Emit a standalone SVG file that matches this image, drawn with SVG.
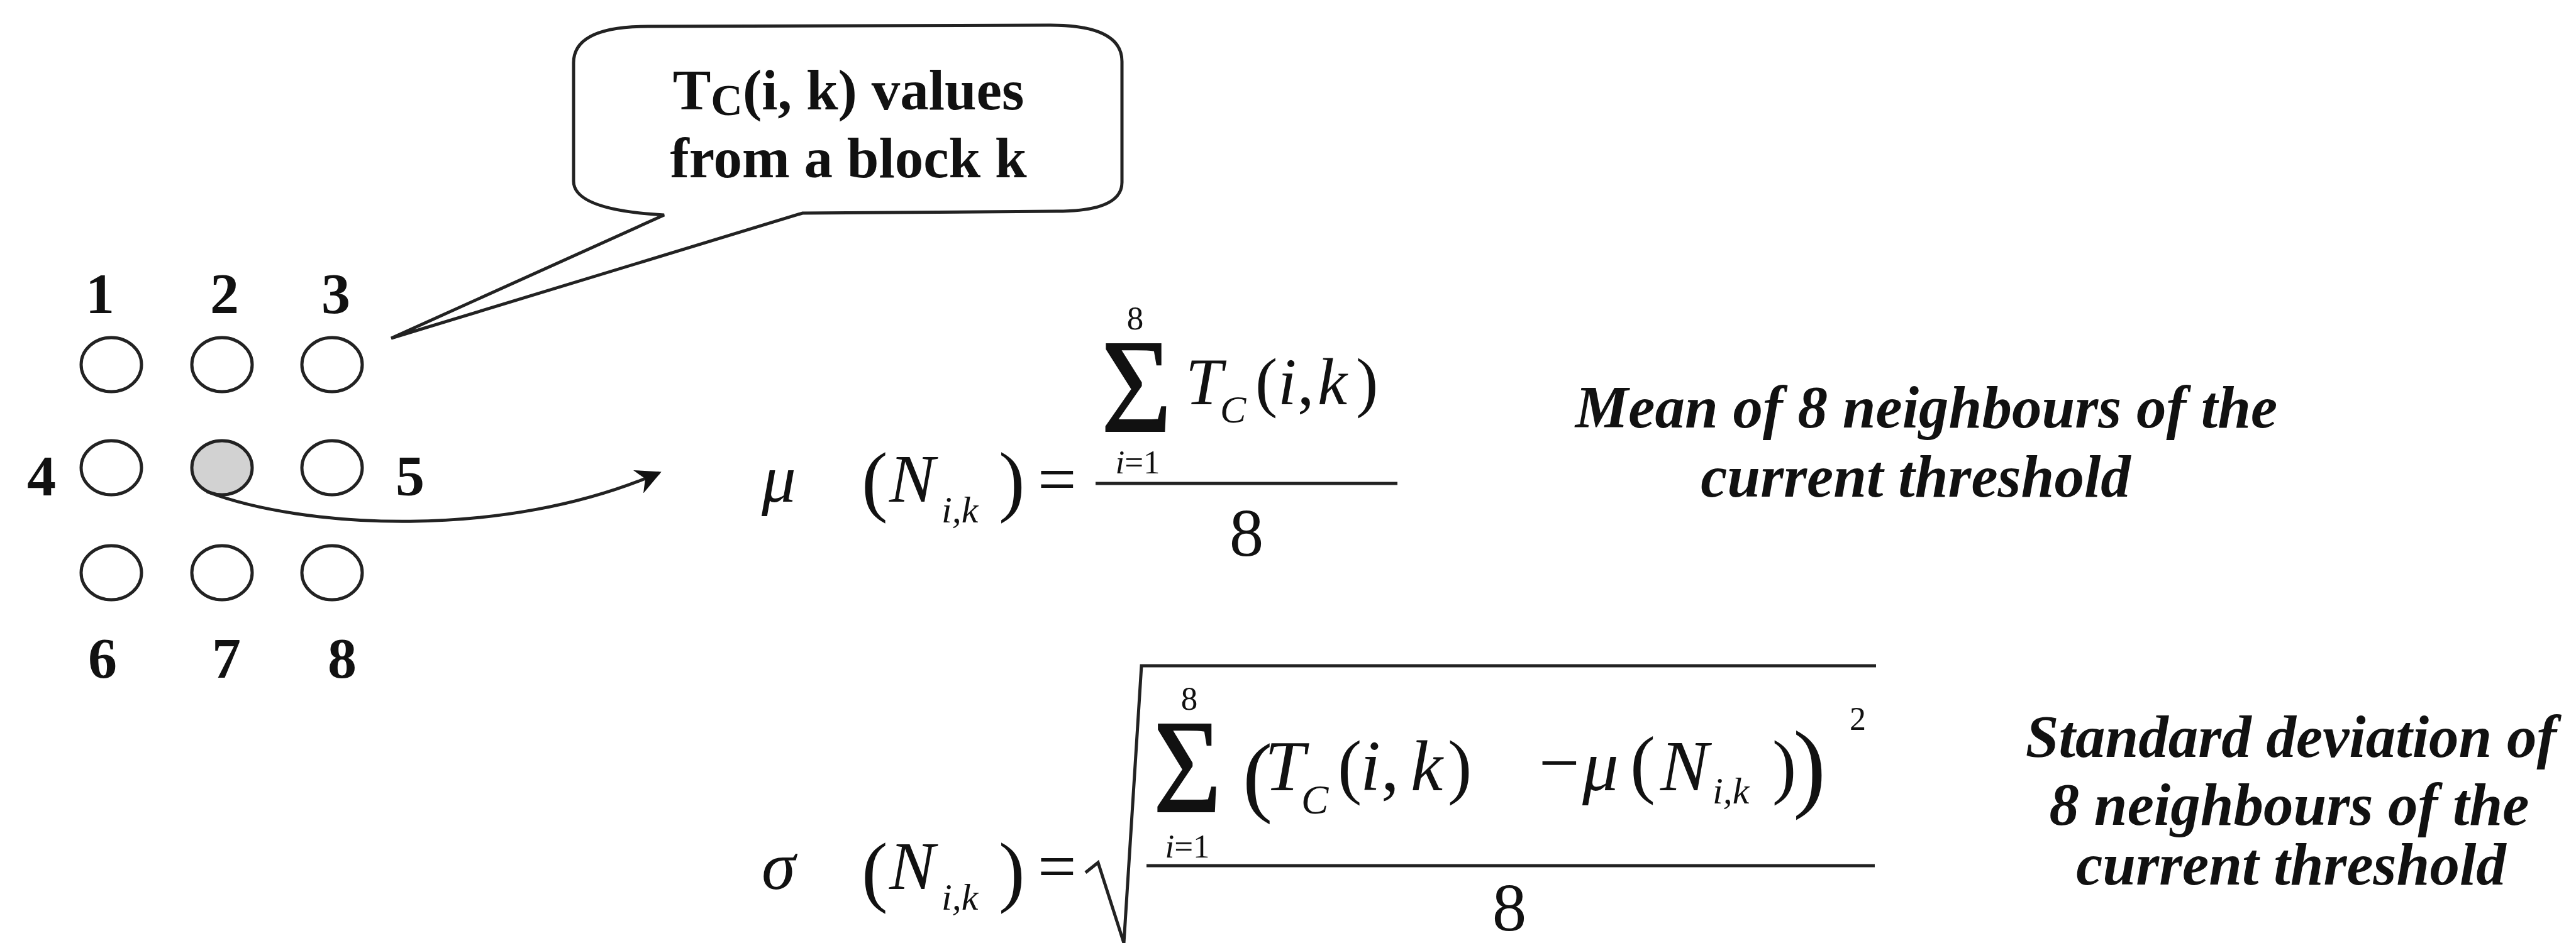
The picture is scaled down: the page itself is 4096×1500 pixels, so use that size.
<svg xmlns="http://www.w3.org/2000/svg" width="4096" height="1500" viewBox="0 0 4096 1500">
<style>
.lbl{font-family:"Liberation Serif","Times New Roman",serif;font-weight:bold;font-size:92px;fill:#111;text-anchor:middle}
.cell{fill:#fff;stroke:#222;stroke-width:5}
.cur{fill:#d2d2d2}
.bub{fill:#fff;stroke:#222;stroke-width:5;stroke-linejoin:miter}
.btx{font-family:"Liberation Serif","Times New Roman",serif;font-weight:bold;font-size:91px;fill:#111;text-anchor:middle}
.m{font-family:"Liberation Serif","Times New Roman",serif;fill:#111}
.it{font-style:italic}
.c{text-anchor:middle}
.sum{stroke:#111;stroke-width:2}
.note{font-family:"Liberation Serif","Times New Roman",serif;font-weight:bold;font-style:italic;font-size:95px;fill:#111;text-anchor:middle}
.ln{stroke:#222;stroke-width:5;fill:none}
.conn{stroke:#222;stroke-width:5;fill:none}
</style>
<defs>
<marker id="ah" viewBox="0 0 10 10" refX="9" refY="5" markerWidth="50" markerHeight="40" markerUnits="userSpaceOnUse" orient="auto">
<path d="M0,0 L10,5 L0,10 L3,5 z" fill="#111"/>
</marker>
</defs>
<rect width="4096" height="1500" fill="#fff"/>

<g id="grid">
<g id="n1"><ellipse class="cell" cx="177" cy="580" rx="48" ry="43"/><text class="lbl" x="159" y="498">1</text></g>
<g id="n2"><ellipse class="cell" cx="353" cy="580" rx="48" ry="43"/><text class="lbl" x="357" y="498">2</text></g>
<g id="n3"><ellipse class="cell" cx="528" cy="580" rx="48" ry="43"/><text class="lbl" x="534" y="498">3</text></g>
<g id="n4"><ellipse class="cell" cx="177" cy="744" rx="48" ry="43"/><text class="lbl" x="66" y="788">4</text></g>
<g id="center"><ellipse class="cell cur" cx="353" cy="744" rx="48" ry="43"/></g>
<g id="n5"><ellipse class="cell" cx="528" cy="744" rx="48" ry="43"/><text class="lbl" x="652" y="788">5</text></g>
<g id="n6"><ellipse class="cell" cx="177" cy="911" rx="48" ry="43"/><text class="lbl" x="163" y="1078">6</text></g>
<g id="n7"><ellipse class="cell" cx="353" cy="911" rx="48" ry="43"/><text class="lbl" x="360" y="1078">7</text></g>
<g id="n8"><ellipse class="cell" cx="528" cy="911" rx="48" ry="43"/><text class="lbl" x="544" y="1078">8</text></g>
</g>

<g id="callout">
<path class="bub" d="M912 100 Q912 42 1030 42 L1670 40 Q1784 40 1784 98 L1784 290 Q1784 336 1680 336 L1276 339 L622 538 L1056 342 Q912 334 912 288 Z"/>
<text class="btx" x="1349" y="174">T<tspan font-size="70" dy="9">C</tspan><tspan dy="-9">(i, k) values</tspan></text>
<text class="btx" x="1349" y="282">from a block k</text>
</g>

<g id="connectors">
<path class="conn" d="M329 782 C480 840 800 860 1048 752" marker-end="url(#ah)"/>
</g>

<g id="mean-formula">
<text class="m it" x="1211" y="798" font-size="109">μ</text>
<text class="m" x="1370" y="806" font-size="125">(</text>
<text class="m it" x="1414" y="798" font-size="109">N</text>
<text class="m it" x="1497" y="831" font-size="60">i,k</text>
<text class="m" x="1588" y="806" font-size="125">)</text>
<text class="m" x="1650" y="798" font-size="109">=</text>
<text class="m sum" x="1751" y="686" font-size="213" textLength="112" lengthAdjust="spacingAndGlyphs">Σ</text>
<text class="m c" x="1805" y="524" font-size="53">8</text>
<text class="m c" x="1809" y="753" font-size="53"><tspan class="it">i</tspan>=1</text>
<text class="m it" x="1885" y="643" font-size="106">T</text>
<text class="m it" x="1940" y="672" font-size="62">C</text>
<text class="m" x="1996" y="643" font-size="106">(</text>
<text class="m it" x="2032" y="643" font-size="106">i</text>
<text class="m" x="2063" y="643" font-size="106">,</text>
<text class="m it" x="2095" y="643" font-size="106">k</text>
<text class="m" x="2156" y="643" font-size="106">)</text>
<line class="ln" x1="1742" y1="769" x2="2222" y2="769"/>
<text class="m c" x="1982" y="884" font-size="109">8</text>
</g>

<g id="std-formula">
<text class="m it" x="1211" y="1414" font-size="109">σ</text>
<text class="m" x="1370" y="1427" font-size="125">(</text>
<text class="m it" x="1414" y="1414" font-size="109">N</text>
<text class="m it" x="1497" y="1447" font-size="60">i,k</text>
<text class="m" x="1588" y="1427" font-size="125">)</text>
<text class="m" x="1650" y="1414" font-size="109">=</text>
<path class="ln" d="M1726 1388 L1746 1372 L1787 1500 L1815 1059 L2983 1059"/>
<text class="m sum" x="1834" y="1291" font-size="213" textLength="108" lengthAdjust="spacingAndGlyphs">Σ</text>
<text class="m c" x="1891" y="1129" font-size="53">8</text>
<text class="m c" x="1888" y="1364" font-size="53"><tspan class="it">i</tspan>=1</text>
<text class="m" x="1976" y="1281" font-size="142">(</text>
<text class="m it" x="2011" y="1257" font-size="115">T</text>
<text class="m it" x="2069" y="1294" font-size="65">C</text>
<text class="m" x="2127" y="1257" font-size="115">(</text>
<text class="m it" x="2163" y="1257" font-size="115">i</text>
<text class="m" x="2196" y="1257" font-size="115">,</text>
<text class="m it" x="2243" y="1257" font-size="115">k</text>
<text class="m" x="2302" y="1257" font-size="115">)</text>
<text class="m" x="2447" y="1252" font-size="115">−</text>
<text class="m it" x="2516" y="1257" font-size="115">μ</text>
<text class="m" x="2592" y="1255" font-size="120">(</text>
<text class="m it" x="2640" y="1257" font-size="115">N</text>
<text class="m it" x="2723" y="1278" font-size="60">i,k</text>
<text class="m" x="2818" y="1257" font-size="115">)</text>
<text class="m" x="2851" y="1271" font-size="157">)</text>
<text class="m" x="2941" y="1161" font-size="52">2</text>
<line class="ln" x1="1823" y1="1377" x2="2981" y2="1377"/>
<text class="m c" x="2400" y="1480" font-size="109">8</text>
</g>

<g id="notes">
<text class="note" x="3063" y="680">Mean of 8 neighbours of the</text>
<text class="note" x="3046" y="790">current threshold</text>
<text class="note" x="3643" y="1204">Standard deviation of</text>
<text class="note" x="3640" y="1312">8 neighbours of the</text>
<text class="note" x="3643" y="1407">current threshold</text>
</g>
</svg>
